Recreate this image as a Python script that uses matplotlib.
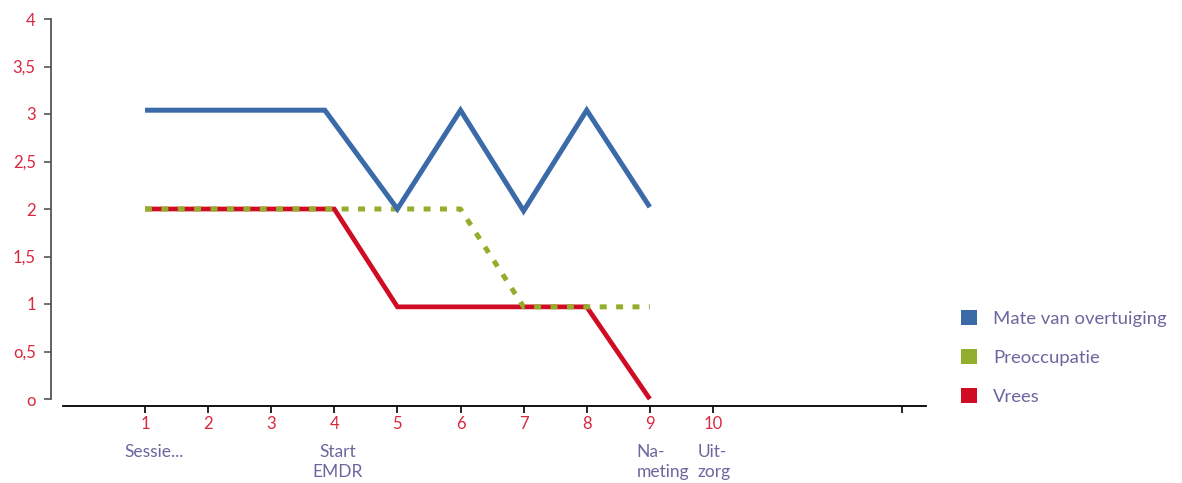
import matplotlib
matplotlib.use("Agg")
import matplotlib.pyplot as plt
from matplotlib.patches import Patch

# ---- data ----
sessions = [1, 2, 3, 4, 5, 6, 7, 8, 9]
blue_sessions = [1, 2, 3, 3.85, 5, 6, 7, 8, 9]
mate_van_overtuiging = [3.04, 3.04, 3.04, 3.04, 2.0, 3.04, 1.98, 3.04, 2.02]
preoccupatie = [2.0, 2.0, 2.0, 2.0, 2.0, 2.0, 0.97, 0.97, 0.97]
vrees = [2.0, 2.0, 2.0, 2.0, 0.97, 0.97, 0.97, 0.97, 0.0]

x_ticks = [1, 2, 3, 4, 5, 6, 7, 8, 9, 10, 13]
x_tick_labels = ["1", "2", "3", "4", "5", "6", "7", "8", "9", "10", ""]
y_ticks = [0, 0.5, 1, 1.5, 2, 2.5, 3, 3.5, 4]
y_tick_labels = ["o", "o,5", "1", "1,5", "2", "2,5", "3", "3,5", "4"]
phase_label_pos = [1.14, 4.05, 9.21, 10.02]
phase_label_text = ["Sessie...", "Start\nEMDR", "Na-\nmeting", "Uit-\nzorg"]
phase_label_align = ["center", "center", "left", "left"]
series_names = ["Mate van overtuiging", "Preoccupatie", "Vrees"]

BLUE = "#3a6aa8"
GREEN = "#93ae2c"
RED = "#d00b24"
TICKRED = "#d8283f"
PURPLE = "#6b679e"

plt.rcParams['font.family'] = ['Lato', 'DejaVu Sans']
plt.rcParams['lines.scale_dashes'] = False

W, H = 1182, 483
fig = plt.figure(figsize=(W / 100, H / 100), dpi=100)
left_px, right_px, top_px, bot_px = 51, 926, 19, 399
ax = fig.add_axes([left_px / W, 1 - bot_px / H, (right_px - left_px) / W, (bot_px - top_px) / H])

x0 = 1 - (145 - left_px) / 63.1
x1 = 1 + (right_px - 145) / 63.1
ax.set_xlim(x0, x1)
ax.set_ylim(0, 4)

ax.plot(sessions, vrees, color=RED, lw=3.4, zorder=2, clip_on=False, solid_capstyle='butt',
        solid_joinstyle='miter')
ax.plot(sessions, preoccupatie, color=GREEN, lw=3.6, zorder=3, clip_on=False,
        dashes=(5, 6.8), dash_capstyle='butt')
ax.plot(blue_sessions, mate_van_overtuiging, color=BLUE, lw=3.6, zorder=4, clip_on=False,
        solid_capstyle='butt', solid_joinstyle='miter')

for s in ['top', 'right']:
    ax.spines[s].set_visible(False)
ax.spines['left'].set_color('#555555')
ax.spines['left'].set_linewidth(1.3)
ax.spines['left'].set_bounds(0, 4)
ax.spines['bottom'].set_position(('outward', 5))
ax.spines['bottom'].set_bounds(1 - (145 - 63) / 63.1, x1)
ax.spines['bottom'].set_linewidth(1.3)

ax.set_yticks(y_ticks)
ax.set_yticklabels(y_tick_labels)
ax.set_xticks(x_ticks)
ax.set_xticklabels(x_tick_labels)
ax.tick_params(axis='y', colors='#555555', labelcolor=TICKRED, length=5, width=1.2, pad=6, labelsize=12)
ax.tick_params(axis='x', colors='black', labelcolor=TICKRED, length=5, width=1.2, pad=2.5, labelsize=12)

for xp, txt, al in zip(phase_label_pos, phase_label_text, phase_label_align):
    ax.text(xp, -0.47, txt, ha='center', va='top', color=PURPLE,
            fontsize=12.5, linespacing=1.32, multialignment=al,
            transform=ax.transData, clip_on=False)

handles = [Patch(facecolor=c, edgecolor='none') for c in (BLUE, GREEN, RED)]
leg = fig.legend(handles, series_names, loc='upper left', bbox_to_anchor=(954 / W, 1 - 303 / H),
                 frameon=False, handlelength=0.85, handleheight=0.85, handletextpad=0.85,
                 labelspacing=1.2, fontsize=13.3, labelcolor=PURPLE, borderaxespad=0)

fig.savefig("out.png", dpi=100)
